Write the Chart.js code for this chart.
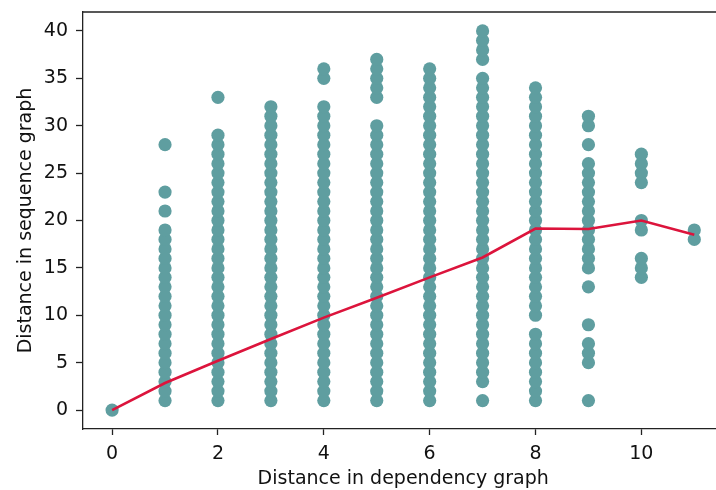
<!DOCTYPE html>
<html>
<head>
<meta charset="utf-8">
<script src="https://cdn.jsdelivr.net/npm/chart.js@4"></script>
<style>
    html, body { margin: 0; padding: 0; background: #fff; overflow: hidden; }
    #wrap { width: 730px; height: 490px; }
</style>
</head>
<body>
<div id="wrap"><canvas id="chart" width="730" height="490"></canvas></div>
<script>
// distance in dependency graph (x) -> observed distances in sequence graph (y)
const depDistances = [0, 1, 2, 3, 4, 5, 6, 7, 8, 9, 10, 11];

const seqAt0 = [0];
const seqAt1 = [1, 2, 3, 4, 5, 6, 7, 8, 9, 10, 11, 12, 13, 14, 15, 16, 17, 18, 19, 21, 23, 28];
const seqAt2 = [1, 2, 3, 4, 5, 6, 7, 8, 9, 10, 11, 12, 13, 14, 15, 16, 17, 18, 19, 20, 21, 22, 23, 24, 25, 26, 27, 28, 29, 33];
const seqAt3 = [1, 2, 3, 4, 5, 6, 7, 8, 9, 10, 11, 12, 13, 14, 15, 16, 17, 18, 19, 20, 21, 22, 23, 24, 25, 26, 27, 28, 29, 30, 31, 32];
const seqAt4 = [1, 2, 3, 4, 5, 6, 7, 8, 9, 10, 11, 12, 13, 14, 15, 16, 17, 18, 19, 20, 21, 22, 23, 24, 25, 26, 27, 28, 29, 30, 31, 32, 35, 36];
const seqAt5 = [1, 2, 3, 4, 5, 6, 7, 8, 9, 10, 11, 12, 13, 14, 15, 16, 17, 18, 19, 20, 21, 22, 23, 24, 25, 26, 27, 28, 29, 30, 33, 34, 35, 36, 37];
const seqAt6 = [1, 2, 3, 4, 5, 6, 7, 8, 9, 10, 11, 12, 13, 14, 15, 16, 17, 18, 19, 20, 21, 22, 23, 24, 25, 26, 27, 28, 29, 30, 31, 32, 33, 34, 35, 36];
const seqAt7 = [1, 3, 4, 5, 6, 7, 8, 9, 10, 11, 12, 13, 14, 15, 16, 17, 18, 19, 20, 21, 22, 23, 24, 25, 26, 27, 28, 29, 30, 31, 32, 33, 34, 35, 37, 38, 39, 40];
const seqAt8 = [1, 2, 3, 4, 5, 6, 7, 8, 10, 11, 12, 13, 14, 15, 16, 17, 18, 19, 20, 21, 22, 23, 24, 25, 26, 27, 28, 29, 30, 31, 32, 33, 34];
const seqAt9 = [1, 5, 6, 7, 9, 13, 15, 16, 17, 18, 19, 20, 21, 22, 23, 24, 25, 26, 28, 30, 31];
const seqAt10 = [14, 15, 16, 19, 20, 24, 25, 26, 27];
const seqAt11 = [18, 19];

const seqColumns = [seqAt0, seqAt1, seqAt2, seqAt3, seqAt4, seqAt5, seqAt6, seqAt7, seqAt8, seqAt9, seqAt10, seqAt11];

// mean distance per dependency distance (red line)
const meanSeq = [0, 2.85, 5.2, 7.5, 9.75, 11.85, 14.0, 16.1, 19.15, 19.1, 20.0, 18.5];

const xTickValues = [0, 2, 4, 6, 8, 10];
const yTickValues = [0, 5, 10, 15, 20, 25, 30, 35, 40];

const scatterPoints = [];
seqColumns.forEach((col, i) => {
    col.forEach(v => scatterPoints.push({x: depDistances[i], y: v}));
});
const meanPoints = depDistances.map((d, i) => ({x: d, y: meanSeq[i]}));

const axisColor = '#222';
const font = {family: 'DejaVu Sans', size: 19};

// matplotlib-ish top/right spines
const framePlugin = {
    id: 'frame',
    afterDraw(chart) {
        const a = chart.chartArea;
        const ctx = chart.ctx;
        ctx.save();
        ctx.strokeStyle = axisColor;
        ctx.lineWidth = 1.3;
        ctx.beginPath();
        ctx.moveTo(a.left, a.top);
        ctx.lineTo(a.right, a.top);
        ctx.lineTo(a.right, a.bottom);
        ctx.stroke();
        ctx.restore();
    }
};

new Chart(document.getElementById('chart').getContext('2d'), {
    type: 'scatter',
    data: {
        datasets: [
            {
                type: 'line',
                label: 'mean',
                data: meanPoints,
                borderColor: '#dc143c',
                borderWidth: 2.6,
                pointRadius: 0,
                fill: false,
                tension: 0,
                order: 0
            },
            {
                label: 'pairs',
                data: scatterPoints,
                backgroundColor: '#5f9ea0',
                borderWidth: 0,
                pointRadius: 6.6,
                order: 1
            }
        ]
    },
    options: {
        responsive: false,
        animation: false,
        layout: {padding: {top: 12, right: 5, left: 0, bottom: 0}},
        plugins: {
            legend: {display: false},
            tooltip: {enabled: false}
        },
        scales: {
            x: {
                type: 'linear',
                min: -0.55,
                max: 11.55,
                afterBuildTicks: s => { s.ticks = xTickValues.map(v => ({value: v})); },
                afterFit: s => { s.height = 61; s.paddingLeft = 0; s.paddingRight = 0; },
                grid: {drawOnChartArea: false, drawTicks: true, tickLength: 6, tickColor: axisColor, tickWidth: 1.3},
                border: {display: true, color: axisColor, width: 1.3},
                ticks: {color: '#111', font: font, padding: 8, maxRotation: 0},
                title: {display: true, text: 'Distance in dependency graph', color: '#111', font: font, padding: {top: 0, bottom: 0}}
            },
            y: {
                type: 'linear',
                min: -2,
                max: 42,
                afterBuildTicks: s => { s.ticks = yTickValues.map(v => ({value: v})); },
                afterFit: s => { s.width = 83; s.paddingTop = 0; s.paddingBottom = 0; },
                grid: {drawOnChartArea: false, drawTicks: true, tickLength: 7, tickColor: axisColor, tickWidth: 1.3},
                border: {display: true, color: axisColor, width: 1.3},
                ticks: {color: '#111', font: font, padding: 8},
                title: {display: true, text: 'Distance in sequence graph', color: '#111', font: font, padding: {top: 15, bottom: 0}}
            }
        }
    },
    plugins: [framePlugin]
});
</script>
</body>
</html>
